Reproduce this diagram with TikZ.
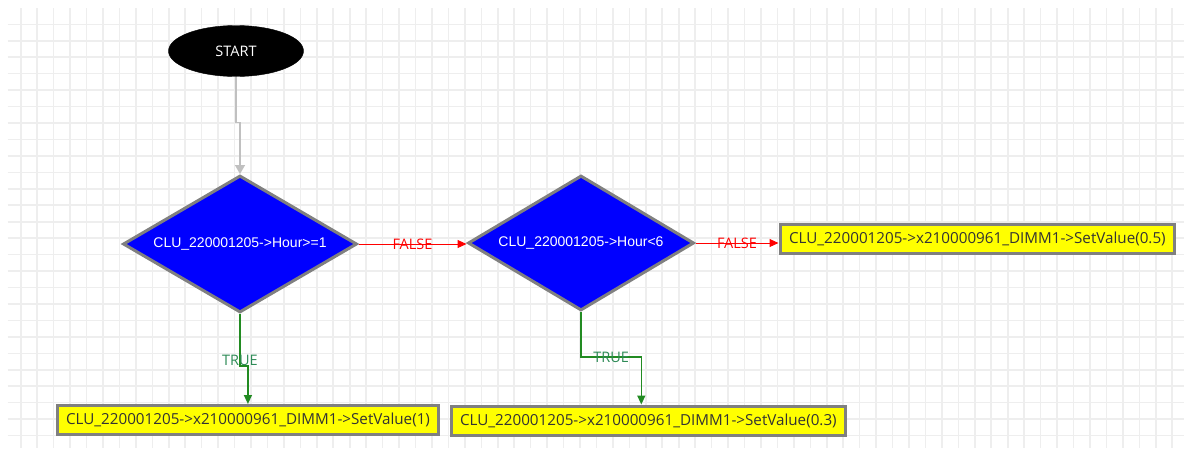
\documentclass[tikz,border=0pt]{standalone}
\usepackage{fontspec}
\setmainfont{Open Sans}
\newfontfamily\arialfont{Liberation Sans}
\usepackage{xcolor}
\usetikzlibrary{shapes.geometric,arrows.meta,positioning,calc}

\definecolor{gridgray}{RGB}{238,238,238}
\definecolor{bordergray}{RGB}{128,128,128}
\definecolor{flowblue}{RGB}{0,0,255}
\definecolor{flowyellow}{RGB}{255,255,0}
\definecolor{truegreen}{RGB}{34,139,34}
\definecolor{truetext}{RGB}{46,139,87}
\definecolor{startgray}{RGB}{192,192,192}

\begin{document}
\begin{tikzpicture}[x=1pt, y=-1pt,
  gridline/.style={line width=1.6pt, gridgray},
  startnode/.style={ellipse, draw=black, fill=black, minimum width=135pt,
    minimum height=51pt, inner sep=0pt, text=white,
    font=\fontsize{14.5}{17}\selectfont},
  decision/.style={diamond, aspect=1.7, draw=bordergray, fill=flowblue,
    line width=3pt, inner sep=0pt, text=white,
    font=\arialfont\fontsize{14}{16}\selectfont},
  action/.style={rectangle, draw=bordergray, fill=flowyellow, line width=3pt,
    inner xsep=9pt, inner ysep=0pt, minimum height=29pt, anchor=west,
    text=black!80, font=\fontsize{15.2}{18}\selectfont},
  startline/.style={draw=startgray, line width=1.4pt,
    -{Triangle[length=9pt,width=10pt]}},
  falseline/.style={draw=red, line width=1pt, -{Triangle[length=9pt,width=8pt]}},
  trueline/.style={draw=truegreen, line width=1.4pt,
    -{Triangle[length=9pt,width=8pt]}},
  falselabel/.style={text=red, inner sep=0pt, font=\fontsize{14.5}{17}\selectfont},
  truelabel/.style={text=truetext, inner sep=0pt, font=\fontsize{14.5}{17}\selectfont}]

\useasboundingbox (0,0) rectangle (1184,448);
\fill[white] (0,0) rectangle (1184,448);

% Background grid
\foreach \i in {0,...,70}
  \draw[gridline] ({20.7+16.45*\i},8) -- ({20.7+16.45*\i},448);
\foreach \j in {0,...,25}
  \draw[gridline] (7.5,{24.3+16.45*\j}) -- (1184,{24.3+16.45*\j});

% Start and decisions
\node[startnode] (start) at (236,51) {START};
\node[decision, minimum width=234pt, minimum height=137pt] (hourmin) at (240,244)
      {CLU\_220001205->Hour>=1};
\node[decision, minimum width=226pt, minimum height=135pt] (hourmax) at (581,243)
      {CLU\_220001205->Hour<6};

% Actions
\node[action] (dimfull) at (55.5,420) {CLU\_220001205->x210000961\_DIMM1->SetValue(1)};
\node[action] (dimlow) at (449.5,420.5) {CLU\_220001205->x210000961\_DIMM1->SetValue(0.3)};
\node[action] (dimhalf) at (778.5,238.5) {CLU\_220001205->x210000961\_DIMM1->SetValue(0.5)};

% Connectors
\draw[startline] (start.south) -- ++(0,46) -| (hourmin.north);
\draw[falseline] (hourmin.east) -- node[falselabel]{FALSE} (hourmin.east -| hourmax.west);
\draw[falseline] (hourmax.east) -- node[falselabel]{FALSE} (hourmax.east -| dimhalf.west);
\draw[trueline] (hourmin.south) -- node[truelabel, pos=0.89]{TRUE} ++(0,52)
      -| (dimfull.north);
\draw[trueline] (hourmax.south) -- ++(0,45)
      -| node[truelabel, pos=0.25]{TRUE} ([xshift=-7pt]dimlow.north);

\end{tikzpicture}
\end{document}
